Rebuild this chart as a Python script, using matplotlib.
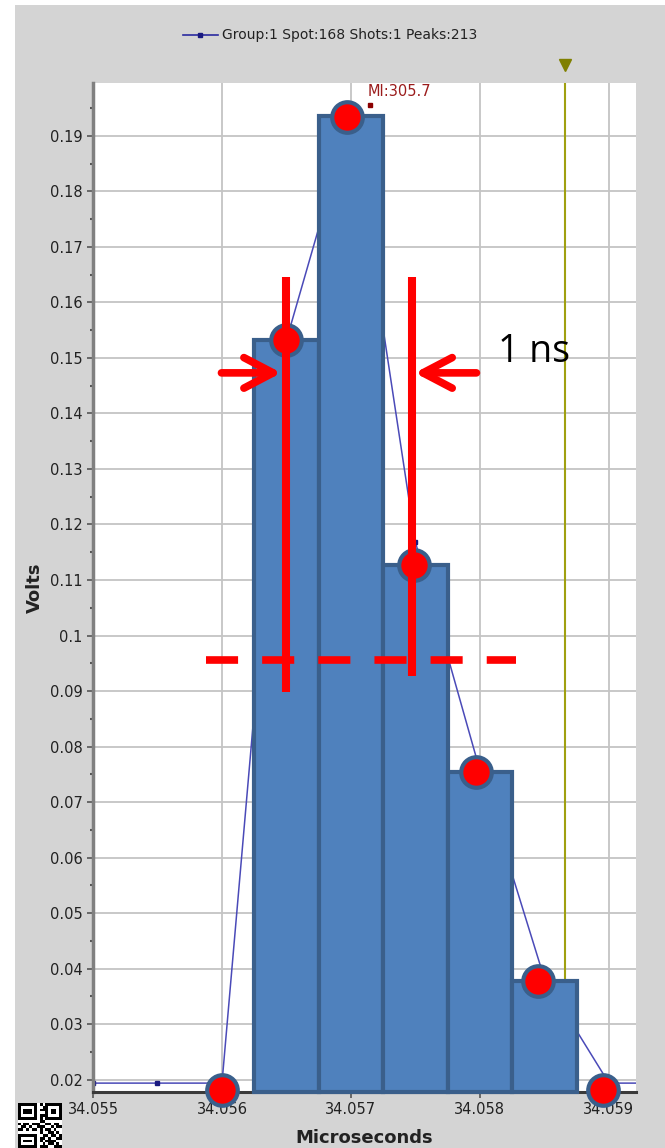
import matplotlib
matplotlib.use("Agg")
import matplotlib.pyplot as plt
import numpy as np

# trace (points every 0.5 ns)
trace_x = [34.055, 34.0555, 34.056, 34.0565, 34.057, 34.0575, 34.058, 34.0585, 34.059, 34.0595]
trace_y = [0.0194, 0.0194, 0.0194, 0.1532, 0.1935, 0.1168, 0.0757, 0.0382, 0.0194, 0.0194]

# histogram bars
bar_x = [34.0565, 34.057, 34.0575, 34.058, 34.0585]
bar_y = [0.1533, 0.1935, 0.1127, 0.0755, 0.0378]
bar_w = 0.0005

# red dots drawn on top
dot_x = [34.056004, 34.056498, 34.056969, 34.057486, 34.057973, 34.058452, 34.058954]
dot_y = [0.0182, 0.1533, 0.1934, 0.1127, 0.0755, 0.0378, 0.0182]

x_ticks = [34.055, 34.056, 34.057, 34.058, 34.059]
x_labels = ["34.055", "34.056", "34.057", "34.058", "34.059"]
y_ticks = [0.02, 0.03, 0.04, 0.05, 0.06, 0.07, 0.08, 0.09, 0.1, 0.11,
           0.12, 0.13, 0.14, 0.15, 0.16, 0.17, 0.18, 0.19]
y_labels = ["0.02", "0.03", "0.04", "0.05", "0.06", "0.07", "0.08", "0.09", "0.1",
            "0.11", "0.12", "0.13", "0.14", "0.15", "0.16", "0.17", "0.18", "0.19"]

X_MIN, X_MAX = 34.055, 34.05921
Y_MIN, Y_MAX = 0.0178, 0.1995

GRAY = "#d4d4d4"
fig = plt.figure(figsize=(6.65, 11.48), dpi=100)
fig.patch.set_facecolor(GRAY)
# white strip on the left / top of the screenshot
fig.patches.append(plt.Rectangle((0, 0), 15 / 665, 1, transform=fig.transFigure,
                                 facecolor="white", edgecolor="none", zorder=0))
fig.patches.append(plt.Rectangle((0, 1 - 5 / 1148), 1, 5 / 1148, transform=fig.transFigure,
                                 facecolor="white", edgecolor="none", zorder=0))

ax = fig.add_axes([93 / 665, 1 - 1092 / 1148, (636 - 93) / 665, (1092 - 83) / 1148])
ax.set_facecolor("white")
ax.set_xlim(X_MIN, X_MAX)
ax.set_ylim(Y_MIN, Y_MAX)

ax.set_xticks(x_ticks)
ax.set_xticklabels(x_labels)
ax.set_yticks(y_ticks)
ax.set_yticklabels(y_labels)
ax.set_yticks([t + 0.005 for t in y_ticks], minor=True)
ax.tick_params(axis="both", labelsize=10.5, colors="#555555", labelcolor="#222222",
               length=4, width=1.2)
ax.tick_params(axis="y", which="minor", length=2, width=1.5, colors="#555555")
ax.grid(True, color="#c4c4c4", linewidth=1.3, zorder=0)
ax.set_axisbelow(True)

for s in ["top", "right"]:
    ax.spines[s].set_visible(False)
ax.spines["left"].set_color("#808080")
ax.spines["left"].set_linewidth(2.5)
ax.spines["bottom"].set_color("#3a3a3a")
ax.spines["bottom"].set_linewidth(2.2)

ax.set_xlabel("Microseconds", fontsize=13, fontweight="bold", color="#222222", labelpad=8)
ax.set_ylabel("Volts", fontsize=13, fontweight="bold", color="#222222", labelpad=4)

# trace line
ax.plot(trace_x, trace_y, color="#4a4ab8", linewidth=1.1, marker="s", markersize=3,
        markerfacecolor="#1a1a80", markeredgecolor="#1a1a80", zorder=2)

# olive marker line
ax.axvline(34.05866, color="#a0a010", linewidth=1.5, zorder=2)
ax.plot([34.05866], [0.2027], marker="v", color="#808000", markersize=8,
        clip_on=False, zorder=5)

# MI peak marker
ax.plot([34.05715], [0.1956], marker="s", color="#8b0000", markersize=3, zorder=3)
ax.text(34.05713, 0.1966, "MI:305.7", color="#9b1c1c", fontsize=10.5, ha="left", va="bottom")

# bars
ax.bar(bar_x, [v - Y_MIN for v in bar_y], width=bar_w, bottom=Y_MIN,
       color="#4f81bd", edgecolor="#3a5f8b", linewidth=3, zorder=4, clip_on=False)

# red dots
ax.plot(dot_x, dot_y, linestyle="none", marker="o", markersize=22,
        markerfacecolor="#ff0000", markeredgecolor="#3a5f8b", markeredgewidth=3,
        zorder=6, clip_on=False)

# red annotations
ax.plot([34.0565, 34.0565], [0.1646, 0.0899], color="#ff0000", linewidth=5.8,
        solid_capstyle="butt", zorder=7)
ax.plot([34.05747, 34.05747], [0.1646, 0.0928], color="#ff0000", linewidth=5.8,
        solid_capstyle="butt", zorder=7)
ax.plot([34.055873, 34.058282], [0.0956, 0.0956], color="#ff0000", linewidth=5.5,
        linestyle=(0, (4.2, 3.15)), dash_capstyle="butt", zorder=7)

arrow_kw = dict(arrowstyle="->,head_length=1.05,head_width=0.55", color="#ff0000",
                lw=5.5, mutation_scale=20, capstyle="round", joinstyle="round",
                shrinkA=0, shrinkB=0)
ax.annotate("", xy=(34.05646, 0.1473), xytext=(34.055996, 0.1473),
            arrowprops=arrow_kw, zorder=8)
ax.annotate("", xy=(34.057495, 0.1473), xytext=(34.057973, 0.1473),
            arrowprops=arrow_kw, zorder=8)
ax.text(34.058143, 0.1511, "1 ns", fontsize=27, family="Open Sans", color="black",
        ha="left", va="center", zorder=8)

# legend
fig.lines.append(plt.Line2D([183 / 665, 218 / 665], [1 - 35 / 1148] * 2,
                            transform=fig.transFigure, color="#2a2aa0", linewidth=1.2))
fig.lines.append(plt.Line2D([200 / 665], [1 - 35 / 1148], transform=fig.transFigure,
                            marker="s", markersize=3, color="#1a1a80"))
fig.text(222 / 665, 1 - 35 / 1148, "Group:1 Spot:168 Shots:1 Peaks:213", fontsize=10,
         color="#222222", ha="left", va="center")

# qr code glyph
qr = ["1111111010111111",
      "1000001001100001",
      "1011101011101101",
      "1011101000101101",
      "1000001011100001",
      "1111111010111111",
      "0000000011000000",
      "1011011100110110",
      "0110100111001011",
      "1101011010110100",
      "0000000010011010",
      "1111111001101101",
      "1000001011010011",
      "1011101010111100",
      "1000001001011010",
      "1111111011100111"]
qr_img = np.array([[1 - int(c) for c in row] for row in qr])
qax = fig.add_axes([18 / 665, 0, 44 / 665, 45 / 1148])
qax.imshow(qr_img, cmap="gray", interpolation="nearest", aspect="auto")
qax.axis("off")

fig.savefig("out.png", dpi=100, facecolor=GRAY)
